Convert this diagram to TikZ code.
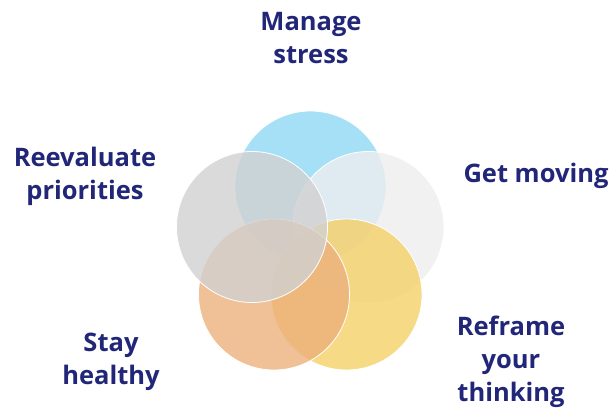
\documentclass[tikz,border=0pt]{standalone}
\usepackage{fontspec}
\setmainfont{Open Sans}
\definecolor{navy}{RGB}{33,38,120}
\definecolor{cblue}{RGB}{144,216,244}
\definecolor{cgreyL}{RGB}{209,209,209}
\definecolor{cgreyR}{RGB}{238,238,238}
\definecolor{corange}{RGB}{236,176,124}
\definecolor{cyellow}{RGB}{244,209,104}
\begin{document}
\begin{tikzpicture}[x=1pt,y=-1pt,ring/.style={shape=circle,draw=white,line width=0.8pt,fill opacity=0.8,minimum size=151pt,inner sep=0pt},lbl/.style={align=center,text=navy,font=\fontsize{25.5}{33}\selectfont\bfseries}]
\useasboundingbox (0,0) rectangle (613,414);

\node[ring,fill=cblue] (stress) at (310.5,186.5) {};
\node[ring,fill=cgreyR] (moving) at (368.5,227) {};
\node[ring,fill=cyellow] (reframe) at (346.5,294.5) {};
\node[ring,fill=corange] (healthy) at (274,294.5) {};
\node[ring,fill=cgreyL] (priorities) at (252,227) {};

\node[lbl] (tstress) at (311,38) {Manage\\stress};
\node[lbl] (tmoving) at (536,176) {Get moving};
\node[lbl] (treframe) at (511,362) {Reframe\\your\\thinking};
\node[lbl] (thealthy) at (111,362) {Stay\\healthy};
\node[lbl] (tpriorities) at (85,176) {Reevaluate\\priorities};
\end{tikzpicture}
\end{document}
